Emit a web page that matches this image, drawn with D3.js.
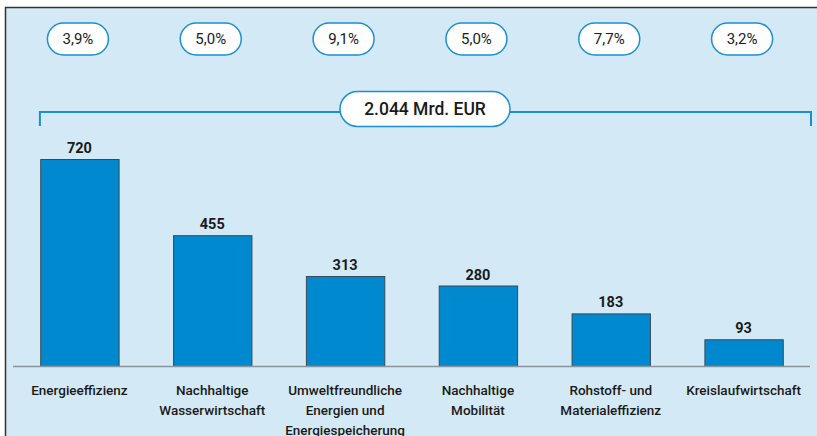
<!DOCTYPE html>
<html>
<head>
<meta charset="utf-8">
<script src="https://cdn.jsdelivr.net/npm/d3@7"></script>
<style>
	body { margin: 0; background: #fff; }
	svg { display: block; font-family: Roboto, "Noto Sans", sans-serif; }
</style>
</head>
<body>
<svg id="chart" width="817" height="436"></svg>
<script>
// data (Mrd. EUR and growth rate per year)
const categories = [
	["Energieeffizienz"],
	["Nachhaltige", "Wasserwirtschaft"],
	["Umweltfreundliche", "Energien und", "Energiespeicherung"],
	["Nachhaltige", "Mobilität"],
	["Rohstoff- und", "Materialeffizienz"],
	["Kreislaufwirtschaft"]
];
const values = [720, 455, 313, 280, 183, 93];
const growth = ["3,9%", "5,0%", "9,1%", "5,0%", "7,7%", "3,2%"];
const totalLabel = "2.044 Mrd. EUR";

const width = 817;
const height = 436;
const blue = "#0089ce";
const lineBlue = "#1b8fd2";

let svg = d3.select("#chart");

// background panel with dark frame on top and left
svg.append("rect")
	.attr("x", 5).attr("y", 8)
	.attr("width", width - 5).attr("height", height - 8)
	.attr("fill", "#d3e9f5");
svg.append("path")
	.attr("d", "M5.5," + height + "V7.5H" + width)
	.attr("fill", "none")
	.attr("stroke", "#333")
	.attr("stroke-width", 1.5);

let x = d3.scaleBand()
	.domain(d3.range(values.length))
	.range([13, 810])
	.paddingInner(0.41)
	.paddingOuter(0.205);

let y = d3.scaleLinear()
	.domain([0, 720])
	.range([366, 159]);

// bars
svg.selectAll("rect.bar")
	.data(values)
	.enter()
	.append("rect")
	.attr("class", "bar")
	.attr("x", (d, i) => x(i) + 0.5)
	.attr("y", d => y(d) + 0.5)
	.attr("width", x.bandwidth())
	.attr("height", d => y(0) - y(d))
	.attr("fill", blue)
	.attr("stroke", "#3a4a55")
	.attr("stroke-width", 1);

// baseline
svg.append("line")
	.attr("x1", 13).attr("x2", 810)
	.attr("y1", y(0) + 0.5).attr("y2", y(0) + 0.5)
	.attr("stroke", "#8a959c")
	.attr("stroke-width", 1.5);

// value labels
svg.selectAll("text.value")
	.data(values)
	.enter()
	.append("text")
	.attr("class", "value")
	.attr("x", (d, i) => x(i) + x.bandwidth() / 2)
	.attr("y", d => y(d) - 6)
	.attr("text-anchor", "middle")
	.attr("font-size", "14.5px")
	.attr("font-weight", "bold")
	.attr("fill", "#1a1a1a")
	.text(d => d);

// category labels
let cat = svg.selectAll("text.cat")
	.data(categories)
	.enter()
	.append("text")
	.attr("class", "cat")
	.attr("text-anchor", "middle")
	.attr("font-size", "13.5px")
	.attr("font-weight", 500)
	.attr("fill", "#1a1a1a");
cat.selectAll("tspan")
	.data((d, i) => d.map(t => ({ t: t, i: i })))
	.enter()
	.append("tspan")
	.attr("x", d => x(d.i) + x.bandwidth() / 2)
	.attr("y", (d, j) => 395 + j * 20)
	.text(d => d.t);

// growth pills on top
let pills = svg.selectAll("g.pill")
	.data(growth)
	.enter()
	.append("g")
	.attr("class", "pill")
	.attr("transform", (d, i) => "translate(" + (x(i) + x.bandwidth() / 2 - 1.5) + ",39)");
pills.append("rect")
	.attr("x", -30.5).attr("y", -16)
	.attr("width", 61).attr("height", 32)
	.attr("rx", 16)
	.attr("fill", "#fff")
	.attr("stroke", lineBlue)
	.attr("stroke-width", 1.5);
pills.append("text")
	.attr("text-anchor", "middle")
	.attr("dy", "0.36em")
	.attr("font-size", "15px")
	.attr("fill", "#1a1a1a")
	.text(d => d);

// total bracket
let bx0 = x(0) + x.bandwidth() / 2 - 40;
let bx1 = 811;
svg.append("path")
	.attr("d", "M" + (bx0 + 0.5) + ",126V112H" + bx1 + "V126")
	.attr("fill", "none")
	.attr("stroke", lineBlue)
	.attr("stroke-width", 2);

let total = svg.append("g").attr("transform", "translate(425,109)");
total.append("rect")
	.attr("x", -85).attr("y", -17.5)
	.attr("width", 170).attr("height", 35)
	.attr("rx", 17.5)
	.attr("fill", "#fff")
	.attr("stroke", lineBlue)
	.attr("stroke-width", 1.5);
total.append("text")
	.attr("text-anchor", "middle")
	.attr("dy", "0.36em")
	.attr("font-size", "17.5px")
	.attr("font-weight", 500)
	.attr("fill", "#1a1a1a")
	.text(totalLabel);
</script>
</body>
</html>
